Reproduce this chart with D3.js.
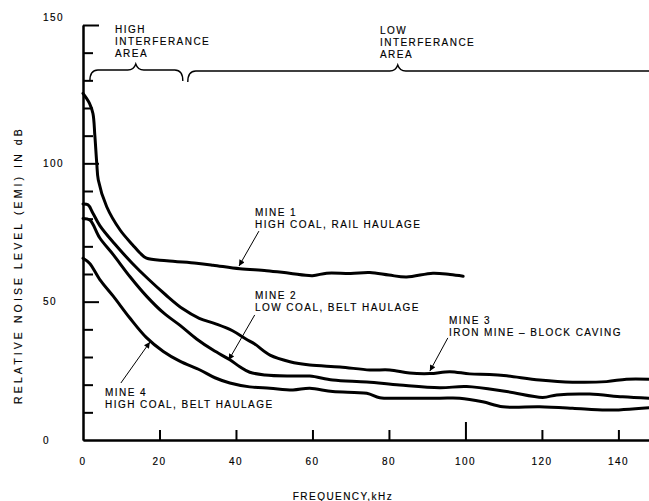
<!DOCTYPE html>
<html><head><meta charset="utf-8">
<script src="https://cdn.jsdelivr.net/npm/d3@7"></script>
<style>
body{margin:0;background:#fff}
svg{display:block}
text{font-family:"Liberation Sans",Arial,Helvetica,sans-serif;font-size:10px;letter-spacing:1.45px;fill:#000;stroke:#000;stroke-width:0.15px}
</style></head><body>
<svg id="chart" width="649" height="501"></svg>
<script>
// ---- data ----
const mine1Freq  = [0, 1.7, 2.6, 3.1, 3.6, 4.0, 6.2, 9.7, 13.0, 14.9, 16.6, 21.9, 29.7, 34.0, 41.0, 48.0, 54.0, 60.0, 63.7, 70.0, 75.0, 80.0, 84.6, 91.5, 96.0, 99.4];
const mine1Level = [125.3, 121.7, 118.0, 110.0, 100.0, 94.0, 84.3, 75.9, 70.5, 67.6, 65.7, 64.8, 63.9, 63.2, 61.9, 61.2, 60.3, 59.4, 60.3, 60.2, 60.5, 59.6, 58.9, 60.3, 59.8, 59.2];

const mine3Freq  = [0, 1.3, 2.6, 4.4, 8.2, 12.8, 17.2, 21.6, 26.0, 30.4, 34.7, 39.1, 42.6, 44.9, 48.9, 54.1, 59.3, 67.2, 75.0, 80.2, 85.4, 90.7, 95.9, 101.1, 106.3, 110.8, 119.4, 128.0, 136.9, 142.1, 148.0];
const mine3Level = [85.3, 85.0, 82.0, 77.5, 71.0, 64.0, 58.0, 52.5, 47.5, 44.0, 42.0, 39.5, 36.5, 34.7, 30.7, 28.3, 27.1, 26.4, 25.3, 25.3, 24.2, 24.0, 24.7, 23.9, 23.7, 23.2, 21.7, 20.9, 21.1, 22.0, 22.0];

const mine2Freq  = [0, 1.8, 4.4, 7.9, 12.3, 16.6, 21.0, 25.3, 29.7, 34.0, 38.4, 41.0, 43.6, 47.6, 54.1, 59.3, 65.3, 74.2, 82.8, 93.3, 100.3, 110.8, 120.2, 123.9, 132.5, 141.1, 148.0];
const mine2Level = [80.1, 79.5, 73.0, 67.0, 59.0, 52.0, 46.0, 41.5, 36.5, 32.5, 29.0, 26.5, 24.5, 23.5, 23.1, 23.1, 21.7, 21.0, 19.9, 18.9, 19.3, 17.5, 15.4, 16.3, 16.6, 15.6, 15.1];

const mine4Freq  = [0, 1.7, 4.4, 7.9, 12.3, 16.6, 21.0, 25.3, 30.6, 34.5, 38.4, 43.6, 48.9, 54.9, 59.3, 65.3, 74.2, 77.6, 82.8, 93.3, 98.5, 104.5, 109.8, 119.4, 128.0, 136.9, 148.0];
const mine4Level = [65.7, 63.9, 58.0, 52.0, 44.0, 37.0, 32.0, 28.5, 25.3, 22.5, 20.6, 19.2, 18.7, 18.1, 18.7, 17.5, 16.9, 15.3, 15.1, 15.1, 15.1, 13.8, 12.0, 12.0, 11.5, 10.8, 11.7];

const yMinorTicks = [10, 20, 30, 40, 60, 70, 80, 90, 110, 120, 130, 140];
const yMajorTicks = [50, 100, 150];
const yTickLabels = [0, 50, 100, 150];
const xMinorTicks = [20, 40, 60, 80, 120, 140];
const xMajorTicks = [100];
const xTickLabels = [0, 20, 40, 60, 80, 100, 120, 140];

const mineNames  = ["MINE 1", "MINE 2", "MINE 3", "MINE 4"];
const mineDescs  = ["HIGH COAL, RAIL HAULAGE", "LOW COAL, BELT HAULAGE", "IRON MINE \u2013 BLOCK CAVING", "HIGH COAL, BELT HAULAGE"];
const areaLabels = [["HIGH", "INTERFERANCE", "AREA"], ["LOW", "INTERFERANCE", "AREA"]];
const xTitle = "FREQUENCY,kHz";
const yTitle = "RELATIVE NOISE LEVEL (EMI) IN dB";

// ---- scales ----
const svg = d3.select("#chart");
const x = d3.scaleLinear().domain([0, 148]).range([83, 649]);
const y = d3.scaleLinear().domain([0, 150]).range([440, 25]);

// ---- axes ----
function styleAxis(g){ g.selectAll("path,line").attr("stroke","#000").attr("stroke-width",2); g.selectAll("text").remove(); }
svg.append("g").attr("transform",`translate(${x(0)},0)`)
  .call(d3.axisRight(y).tickValues(yMinorTicks).tickSize(10).tickSizeOuter(0).tickFormat(""))
  .call(styleAxis);
svg.append("g").attr("transform",`translate(${x(0)},0)`)
  .call(d3.axisRight(y).tickValues(yMajorTicks).tickSize(16).tickSizeOuter(0).tickFormat(""))
  .call(styleAxis);
svg.append("g").attr("transform",`translate(0,${y(0)})`)
  .call(d3.axisTop(x).tickValues(xMinorTicks).tickSize(10).tickSizeOuter(0).tickFormat(""))
  .call(styleAxis);
svg.append("g").attr("transform",`translate(0,${y(0)})`)
  .call(d3.axisTop(x).tickValues(xMajorTicks).tickSize(18).tickSizeOuter(0).tickFormat(""))
  .call(styleAxis);

// tick labels
svg.append("g").selectAll("text").data(yTickLabels).join("text")
  .attr("x", 43).attr("y", d => y(d) + (d === 150 ? -4.5 : 3.5))
  .text(d => d);
svg.append("g").selectAll("text").data(xTickLabels).join("text")
  .attr("x", d => x(d)).attr("y", 465).attr("text-anchor","middle")
  .text(d => d);

// axis titles
svg.append("text").attr("x", 343).attr("y", 500).attr("text-anchor","middle").text(xTitle);
svg.append("text").attr("transform","translate(22,265) rotate(-90)").attr("text-anchor","middle")
  .style("font-size","10.5px").style("letter-spacing","3.1px").text(yTitle);

// ---- curves ----
const line = d3.line().x(d => x(d[0])).y(d => y(d[1])).curve(d3.curveCatmullRom.alpha(0.5));
const series = [
  d3.zip(mine1Freq, mine1Level),
  d3.zip(mine3Freq, mine3Level),
  d3.zip(mine2Freq, mine2Level),
  d3.zip(mine4Freq, mine4Level)
];
svg.append("g").selectAll("path").data(series).join("path")
  .attr("d", line).attr("fill","none").attr("stroke","#000")
  .attr("stroke-width",3).attr("stroke-linejoin","round").attr("stroke-linecap","round");

// ---- braces ----
function brace(x0, xp, x1, yb, curlRight){
  const p = d3.path();
  p.moveTo(x0, yb + 11);
  p.quadraticCurveTo(x0, yb, x0 + 8, yb);
  p.lineTo(xp - 8, yb);
  p.quadraticCurveTo(xp - 2, yb, xp, yb - 6);
  p.quadraticCurveTo(xp + 2, yb, xp + 8, yb);
  if (curlRight){ p.lineTo(x1 - 8, yb); p.quadraticCurveTo(x1, yb, x1, yb + 11); }
  else { p.lineTo(x1, yb); }
  return p.toString();
}
const braceG = svg.append("g").attr("fill","none").attr("stroke","#000").attr("stroke-width",1.4);
braceG.append("path").attr("d", brace(x(1.8), x(13.8), x(26.1), 70, true));
braceG.append("path").attr("d", brace(x(27.4), x(82.3), x(148), 71, false));

// area labels
const areaPos = [[115, 33], [380, 34]];
areaLabels.forEach((lines, i) => {
  const t = svg.append("text").attr("x", areaPos[i][0]).attr("y", areaPos[i][1]);
  lines.forEach((s, j) => t.append("tspan").attr("x", areaPos[i][0]).attr("dy", j === 0 ? 0 : 12).text(s));
});

// ---- annotations ----
svg.append("defs").append("marker").attr("id","ah").attr("viewBox","0 0 10 10")
  .attr("refX",10).attr("refY",5).attr("markerWidth",7).attr("markerHeight",6)
  .attr("markerUnits","userSpaceOnUse").attr("orient","auto")
  .append("path").attr("d","M0,0L10,5L0,10z").attr("fill","#000");

const annPos = [
  {tx: 255, ty: 216, a: [46.0, 75.5, 40.8, 62.9]},
  {tx: 255, ty: 299, a: [44.9, 45.2, 38.1, 28.9]},
  {tx: 449, ty: 324, a: [95.4, 36.9, 90.7, 24.9]},
  {tx: 105, ty: 396, a: [9.9, 20.6, 17.5, 35.4]}
];
annPos.forEach((p, i) => {
  const t = svg.append("text").attr("x", p.tx).attr("y", p.ty);
  t.append("tspan").attr("x", p.tx).text(mineNames[i]);
  t.append("tspan").attr("x", p.tx).attr("dy", 12).text(mineDescs[i]);
  svg.append("line").attr("x1", x(p.a[0])).attr("y1", y(p.a[1]))
    .attr("x2", x(p.a[2])).attr("y2", y(p.a[3]))
    .attr("stroke","#000").attr("stroke-width",1).attr("marker-end","url(#ah)");
});
</script>
</body></html>
